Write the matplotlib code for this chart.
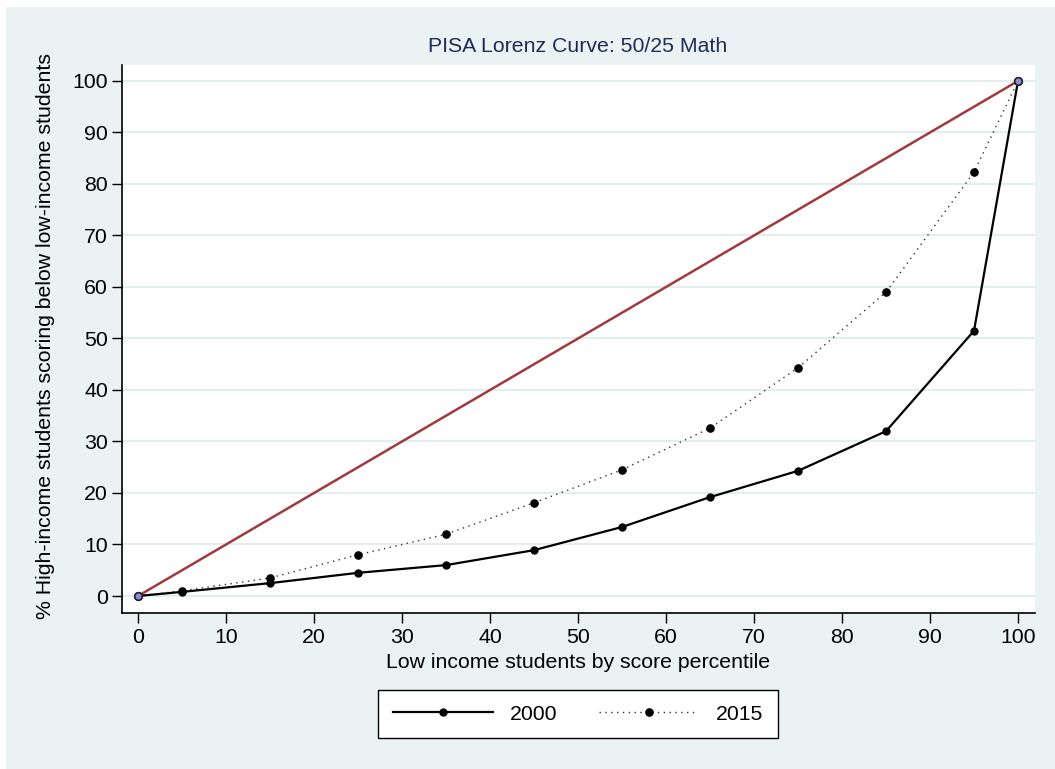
import matplotlib
matplotlib.use("Agg")
import matplotlib.pyplot as plt
from matplotlib.patches import Rectangle

# data
pct = [0, 5, 15, 25, 35, 45, 55, 65, 75, 85, 95, 100]
y2000 = [0, 0.8, 2.5, 4.5, 6.0, 8.9, 13.4, 19.2, 24.3, 32.0, 51.5, 100]
y2015 = [0, 1.0, 3.5, 8.0, 12.0, 18.1, 24.5, 32.6, 44.3, 59.0, 82.3, 100]
equal_x = [0, 100]
equal_y = [0, 100]
ticks = list(range(0, 101, 10))

bg = "#EAF2F3"
fs = 15.3
plt.rcParams['font.family'] = ['Liberation Sans', 'DejaVu Sans']

fig = plt.figure(figsize=(10.55, 7.69), dpi=100)
fig.patch.set_facecolor("white")
fig.patches.append(Rectangle((6 / 1055, 0), 1, 1 - 7 / 769, transform=fig.transFigure,
                             facecolor=bg, edgecolor="none", zorder=-10))

ax = fig.add_axes([122 / 1055, 1 - 613 / 769, (1035 - 122) / 1055, (613 - 65) / 769])
ax.set_facecolor("white")
ax.set_xlim(-1.82, 101.93)
ax.set_ylim(-3.3, 103.1)

for t in ticks:
    ax.axhline(t, color="#E4EDEF", lw=1.6, zorder=0)

ax.plot(equal_x, equal_y, color="#A03A3D", lw=1.8, zorder=2)
ax.plot(pct, y2015, color="#333333", lw=1.0, ls=(0, (1, 3.2)), zorder=3)
ax.plot(pct, y2015, ls="none", marker="o", ms=5.2, color="black", zorder=4)
ax.plot(pct, y2000, color="black", lw=1.6, marker="o", ms=5, zorder=5)
ax.plot(equal_x, equal_y, ls="none", marker="o", ms=5.5, mfc="#8C8CD8",
        mec="#222222", mew=1.2, zorder=6)

for s in ["top", "right"]:
    ax.spines[s].set_visible(False)
for s in ["left", "bottom"]:
    ax.spines[s].set_linewidth(1.2)

ax.set_xticks(ticks)
ax.set_yticks(ticks)
ax.tick_params(axis="both", length=7, width=1, labelsize=fs, direction="out")
ax.tick_params(axis="x", pad=4)
ax.tick_params(axis="y", pad=3)

fig.text(578 / 1055, 1 - 46 / 769, "PISA Lorenz Curve: 50/25 Math", ha="center",
         va="center", fontsize=fs, color="#1E2D55")
fig.text(578 / 1055, 1 - 662 / 769, "Low income students by score percentile",
         ha="center", va="center", fontsize=fs)
fig.text(46 / 1055, 1 - 336 / 769, "% High-income students scoring below low-income students",
         ha="center", va="center", rotation=90, fontsize=fs)

h1, = ax.plot([], [], color="black", lw=1.6, marker="o", ms=5)
h2, = ax.plot([], [], color="#333333", lw=1.0, ls=(0, (1, 3.2)), marker="o", ms=5.2,
              mfc="black", mec="black")
leg = fig.legend([h1, h2], ["2000", "2015"], loc="center",
                 bbox_to_anchor=(578 / 1055, 1 - 714 / 769), ncol=2, fontsize=fs,
                 frameon=True, fancybox=False, edgecolor="black", framealpha=1,
                 handlelength=4.7, handletextpad=0.8, columnspacing=1.93,
                 borderpad=0.7, borderaxespad=0)
leg.get_frame().set_linewidth(1.0)

fig.savefig("out.png", dpi=100)
